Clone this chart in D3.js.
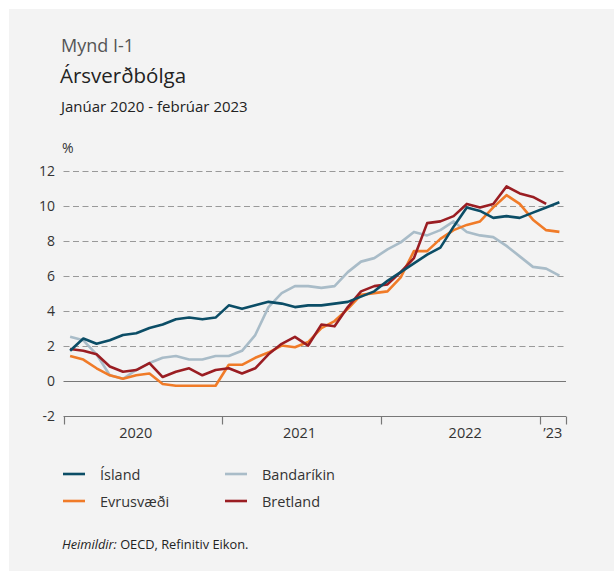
<!DOCTYPE html>
<html>
<head>
<meta charset="utf-8">
<script src="https://cdn.jsdelivr.net/npm/d3@7"></script>
<style>
  body { margin: 0; background: #fff; }
  svg { display: block; font-family: "Open Sans", "Noto Sans", sans-serif; }
</style>
</head>
<body>
<svg id="chart" width="614" height="571"></svg>
<script>
// months jan 2020 - feb 2023
const months = d3.range(38).map(i => (2020 + Math.floor(i / 12)) + "-" + String(i % 12 + 1).padStart(2, "0"))

// verðbólga, %
const island = [1.7, 2.4, 2.1, 2.3, 2.6, 2.7, 3.0, 3.2, 3.5, 3.6, 3.5, 3.6,
                4.3, 4.1, 4.3, 4.5, 4.4, 4.2, 4.3, 4.3, 4.4, 4.5, 4.8, 5.1,
                5.7, 6.2, 6.7, 7.2, 7.6, 8.8, 9.9, 9.7, 9.3, 9.4, 9.3, 9.6,
                9.9, 10.2]
const evrusvaedi = [1.4, 1.2, 0.7, 0.3, 0.1, 0.3, 0.4, -0.2, -0.3, -0.3, -0.3, -0.3,
                    0.9, 0.9, 1.3, 1.6, 2.0, 1.9, 2.2, 3.0, 3.4, 4.1, 4.9, 5.0,
                    5.1, 5.9, 7.4, 7.4, 8.1, 8.6, 8.9, 9.1, 9.9, 10.6, 10.1, 9.2,
                    8.6, 8.5]
const bandarikin = [2.5, 2.3, 1.5, 0.3, 0.1, 0.6, 1.0, 1.3, 1.4, 1.2, 1.2, 1.4,
                    1.4, 1.7, 2.6, 4.2, 5.0, 5.4, 5.4, 5.3, 5.4, 6.2, 6.8, 7.0,
                    7.5, 7.9, 8.5, 8.3, 8.6, 9.1, 8.5, 8.3, 8.2, 7.7, 7.1, 6.5,
                    6.4, 6.0]
const bretland = [1.8, 1.7, 1.5, 0.8, 0.5, 0.6, 1.0, 0.2, 0.5, 0.7, 0.3, 0.6,
                  0.7, 0.4, 0.7, 1.5, 2.1, 2.5, 2.0, 3.2, 3.1, 4.2, 5.1, 5.4,
                  5.5, 6.2, 7.0, 9.0, 9.1, 9.4, 10.1, 9.9, 10.1, 11.1, 10.7, 10.5,
                  10.1]

const yTicks = [-2, 0, 2, 4, 6, 8, 10, 12]
const yearLabels = ["2020", "2021", "2022", "\u201923"]
const yearStarts = [0, 12, 24, 36]

const series = [
    {name: "Bandaríkin", values: bandarikin, color: "#a9bcc8"},
    {name: "Evrusvæði", values: evrusvaedi, color: "#f07b28"},
    {name: "Bretland", values: bretland, color: "#9a1d22"},
    {name: "Ísland", values: island, color: "#0b4d66"}
]

const svg = d3.select("#chart")

svg.append("rect")
    .attr("x", 9).attr("y", 9)
    .attr("width", 605).attr("height", 562)
    .attr("fill", "#f3f3f3")

// titles
svg.append("text").attr("x", 61).attr("y", 52)
    .attr("font-size", 18).attr("fill", "#555").text("Mynd I-1")
svg.append("text").attr("x", 60).attr("y", 83)
    .attr("font-size", 20.5).attr("fill", "#222").text("Ársverðbólga")
svg.append("text").attr("x", 61).attr("y", 112)
    .attr("font-size", 15).attr("fill", "#222").text("Janúar 2020 - febrúar 2023")
svg.append("text").attr("x", 62).attr("y", 153)
    .attr("font-size", 14).attr("fill", "#333").text("%")

const xScale = d3.scaleBand()
    .domain(months)
    .range([63.5, 566])
    .padding(0)

const yScale = d3.scaleLinear()
    .domain([-2, 12])
    .range([415.5, 170.7])

// gridlines
svg.append("g").selectAll("line")
    .data(yTicks.filter(d => d > 0))
    .join("line")
    .attr("x1", 63.5).attr("x2", 566)
    .attr("y1", d => Math.round(yScale(d)) + 0.5)
    .attr("y2", d => Math.round(yScale(d)) + 0.5)
    .attr("stroke", "#999")
    .attr("stroke-dasharray", "6,3.5")

svg.append("line")
    .attr("x1", 63.5).attr("x2", 566)
    .attr("y1", Math.round(yScale(0)) + 0.5).attr("y2", Math.round(yScale(0)) + 0.5)
    .attr("stroke", "#777")

// y labels
svg.append("g").selectAll("text")
    .data(yTicks)
    .join("text")
    .attr("x", 55)
    .attr("y", d => yScale(d) + 5)
    .attr("text-anchor", "end")
    .attr("font-size", 14)
    .attr("fill", "#333")
    .text(d => d)

// x axis
let xAxis = svg.append("g")
let axisY = Math.round(yScale(-2)) + 0.5
xAxis.append("line")
    .attr("x1", 63.5).attr("x2", 566)
    .attr("y1", axisY).attr("y2", axisY)
    .attr("stroke", "#777").attr("stroke-width", 1.2)

let tickXs = yearStarts.map(i => xScale(months[i])).concat([566])
xAxis.selectAll("line.tick")
    .data(tickXs)
    .join("line")
    .attr("class", "tick")
    .attr("x1", d => Math.round(d) + 0.5).attr("x2", d => Math.round(d) + 0.5)
    .attr("y1", axisY).attr("y2", axisY + 8)
    .attr("stroke", "#777").attr("stroke-width", 1.2)

// labels sit a little off the year midpoints in the original
const labelShift = [-7, -2, 5, 0]
xAxis.selectAll("text")
    .data(yearLabels)
    .join("text")
    .attr("x", (d, i) => (tickXs[i] + tickXs[i + 1]) / 2 + labelShift[i])
    .attr("y", 438)
    .attr("text-anchor", "middle")
    .attr("font-size", 14.5)
    .attr("fill", "#333")
    .text(d => d)

// lines
const line = d3.line()
    .x((d, i) => xScale(months[i]) + xScale.bandwidth() / 2)
    .y(d => yScale(d))

svg.append("g").selectAll("path")
    .data(series)
    .join("path")
    .attr("d", d => line(d.values))
    .attr("fill", "none")
    .attr("stroke", d => d.color)
    .attr("stroke-width", 2.6)
    .attr("stroke-linejoin", "round")

// legend
const legendItems = [
    {name: "Ísland", color: "#0b4d66", x: 63, y: 474},
    {name: "Bandaríkin", color: "#a9bcc8", x: 225, y: 474},
    {name: "Evrusvæði", color: "#f07b28", x: 63, y: 501},
    {name: "Bretland", color: "#9a1d22", x: 225, y: 501}
]
let legend = svg.append("g").selectAll("g")
    .data(legendItems)
    .join("g")
    .attr("transform", d => `translate(${d.x},${d.y})`)
legend.append("line")
    .attr("x1", 0).attr("x2", 22)
    .attr("stroke", d => d.color)
    .attr("stroke-width", 2.6)
legend.append("text")
    .attr("x", 37).attr("y", 5.5)
    .attr("font-size", 14.5)
    .attr("fill", "#333")
    .text(d => d.name)

// source
let src = svg.append("text").attr("x", 62).attr("y", 549)
    .attr("font-size", 12.8).attr("fill", "#222")
src.append("tspan").attr("font-style", "italic").text("Heimildir:")
src.append("tspan").text(" OECD, Refinitiv Eikon.")
</script>
</body>
</html>
